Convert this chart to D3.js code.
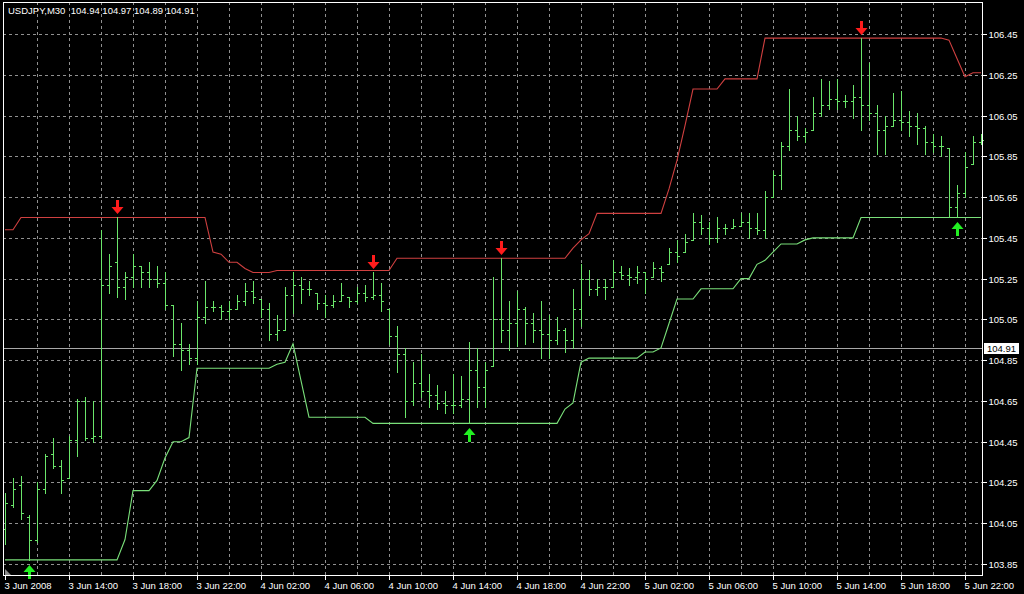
<!DOCTYPE html>
<html><head><meta charset="utf-8">
<script src="https://cdn.jsdelivr.net/npm/d3@7"></script>
<style>html,body{margin:0;padding:0;background:#000;overflow:hidden}svg{display:block}</style>
</head><body><svg id="c" width="1024" height="594"></svg>
<script>
const titleText = "USDJPY,M30  104.94 104.97 104.89 104.91";
const startTime = new Date(2008, 5, 3, 10, 0);
const barMinutes = 30;

const opens = [104.02,104.14,104.24,104.08,103.97,104.22,104.39,104.33,104.27,104.46,
104.65,104.47,104.48,105.22,105.33,105.21,105.26,105.31,105.28,105.25,
105.23,105.12,104.93,104.90,104.86,105.06,105.11,105.11,105.09,105.10,
105.14,105.19,105.15,105.10,104.98,105.00,105.17,105.22,105.20,105.18,
105.13,105.12,105.14,105.16,105.14,105.18,105.16,105.17,105.10,104.97,
104.88,104.65,104.74,104.70,104.68,104.64,104.63,104.63,104.66,104.80,
104.72,104.82,105.05,105.00,105.03,105.10,105.03,105.00,104.98,104.95,
105.00,104.95,105.10,105.25,105.20,105.21,105.21,105.28,105.27,105.26,
105.28,105.26,105.30,105.32,105.38,105.38,105.44,105.53,105.50,105.45,
105.50,105.50,105.51,105.53,105.50,105.49,105.65,105.76,105.90,105.98,
105.95,105.98,106.06,106.10,106.13,106.12,106.12,106.14,106.10,106.06,
105.98,106.00,106.03,106.02,106.00,105.99,105.92,105.90,105.89,105.60,
105.67,105.81,105.92];
const highs = [104.20,104.27,104.28,104.09,104.25,104.39,104.47,104.36,104.48,104.66,
104.67,104.65,105.49,105.37,105.55,105.28,105.37,105.31,105.33,105.31,
105.28,105.12,105.03,104.93,105.14,105.24,105.14,105.12,105.14,105.17,
105.23,105.24,105.15,105.13,105.07,105.21,105.28,105.26,105.24,105.18,
105.17,105.17,105.23,105.16,105.21,105.22,105.28,105.23,105.10,105.02,
104.91,104.84,104.88,104.78,104.73,104.70,104.78,104.77,104.94,104.91,
104.84,105.26,105.35,105.14,105.19,105.11,105.08,105.14,105.07,105.06,
105.01,105.20,105.32,105.29,105.25,105.25,105.34,105.31,105.30,105.31,
105.28,105.33,105.31,105.40,105.44,105.47,105.57,105.56,105.53,105.55,
105.52,105.54,105.57,105.57,105.57,105.68,105.78,105.92,106.18,106.05,
105.99,106.14,106.23,106.22,106.23,106.15,106.20,106.43,106.31,106.10,
106.05,106.16,106.17,106.07,106.06,106.00,105.96,105.95,105.89,105.71,
105.87,105.95,105.96];
const lows = [103.95,104.13,104.07,103.87,103.96,104.20,104.32,104.20,104.27,104.38,
104.46,104.45,104.47,105.18,105.16,105.15,105.21,105.21,105.21,105.21,
105.10,104.87,104.80,104.83,104.83,105.03,105.09,105.05,105.05,105.10,
105.12,105.13,105.06,104.95,104.95,105.00,105.08,105.13,105.17,105.10,
105.06,105.11,105.14,105.11,105.13,105.14,105.15,105.09,104.93,104.79,
104.57,104.63,104.67,104.62,104.61,104.59,104.59,104.62,104.54,104.62,
104.62,104.82,104.94,104.90,104.92,104.93,104.94,104.86,104.86,104.93,
104.89,104.91,105.02,105.17,105.17,105.15,105.21,105.25,105.22,105.23,
105.18,105.26,105.24,105.32,105.33,105.38,105.44,105.47,105.42,105.43,
105.47,105.50,105.51,105.45,105.47,105.45,105.65,105.69,105.88,105.93,
105.92,105.98,106.05,106.08,106.08,106.09,106.04,105.98,106.03,105.86,
105.86,106.00,105.98,105.95,105.91,105.86,105.87,105.85,105.55,105.55,
105.65,105.81,105.91];
const closes = [104.15,104.22,104.10,103.97,104.22,104.38,104.33,104.26,104.46,104.65,
104.47,104.48,105.22,105.31,105.21,105.26,105.31,105.28,105.25,105.23,
105.12,104.93,104.90,104.86,105.06,105.11,105.11,105.09,105.10,105.14,
105.19,105.16,105.10,104.98,105.00,105.17,105.22,105.20,105.20,105.13,
105.12,105.14,105.17,105.14,105.18,105.16,105.17,105.14,104.97,104.88,
104.65,104.74,104.70,104.68,104.64,104.63,104.63,104.66,104.80,104.72,
104.80,105.05,105.00,105.03,105.10,105.03,105.00,104.98,104.95,105.00,
104.95,105.10,105.25,105.20,105.21,105.21,105.28,105.27,105.26,105.28,
105.25,105.30,105.28,105.38,105.36,105.43,105.53,105.50,105.45,105.50,
105.50,105.51,105.53,105.50,105.49,105.65,105.76,105.90,105.98,105.95,
105.97,106.06,106.10,106.13,106.12,106.12,106.14,106.10,106.06,105.98,
106.00,106.03,106.02,106.00,105.99,105.92,105.90,105.90,105.60,105.67,
105.80,105.92,105.93];

const upperChannel = [105.49,105.49,
105.55,105.55,105.55,105.55,105.55,105.55,105.55,105.55,105.55,105.55,105.55,105.55,
105.55,105.55,105.55,105.55,105.55,105.55,105.55,105.55,105.55,105.55,105.55,105.55,
105.38,105.37,105.33,105.33,105.30,105.28,105.28,105.28,
105.29,105.29,105.29,105.29,105.29,105.29,105.29,105.29,105.29,105.29,105.29,105.29,105.29,105.29,105.29,
105.35,105.35,105.35,105.35,105.35,105.35,105.35,105.35,105.35,105.35,105.35,
105.35,105.35,105.35,105.35,105.35,105.35,105.35,105.35,105.35,105.35,105.35,
105.40,105.44,105.47,
105.57,105.57,105.57,105.57,105.57,105.57,105.57,105.57,105.57,
105.69,105.83,106.00,
106.18,106.18,106.18,106.18,
106.23,106.23,106.23,106.23,106.23,
106.43,106.43,106.43,106.43,106.43,106.43,106.43,106.43,106.43,106.43,106.43,106.43,
106.43,106.43,106.43,106.43,106.43,106.43,106.43,106.43,106.43,106.43,106.43,106.42,
106.33,106.24,106.26,106.26];
const lowerChannel = [103.87,103.87,103.87,103.87,103.87,103.87,103.87,103.87,103.87,103.87,
103.87,103.87,103.87,103.87,103.87,
103.97,104.21,104.21,104.21,104.26,104.37,104.45,104.45,104.47,
104.81,104.81,104.81,104.81,104.81,104.81,104.81,104.81,104.81,104.81,
104.83,104.84,104.93,104.75,
104.57,104.57,104.57,104.57,104.57,104.57,104.57,104.57,
104.54,104.54,104.54,104.54,104.54,104.54,104.54,104.54,104.54,104.54,104.54,104.54,
104.54,104.54,104.54,104.54,104.54,104.54,104.54,104.54,104.54,104.54,104.54,104.54,
104.61,104.64,104.84,
104.86,104.86,104.86,104.86,104.86,104.86,104.86,
104.89,104.89,104.91,105.03,
105.15,105.15,105.15,
105.20,105.20,105.20,105.20,105.20,
105.25,105.25,105.32,105.34,105.38,
105.42,105.42,105.42,105.44,
105.45,105.45,105.45,105.45,105.45,105.45,
105.55,105.55,105.55,105.55,105.55,105.55,105.55,105.55,
105.55,105.55,105.55,105.55,105.55,105.55,105.55,105.55];

const sellArrowBars = [14, 46, 62, 107];
const buyArrowBars = [3, 58, 119];
const bidPrice = 104.91;
const yTicks = [103.85,104.05,104.25,104.45,104.65,104.85,105.05,105.25,105.45,105.65,105.85,106.05,106.25,106.45];
const xTickLabels = ["3 Jun 2008","3 Jun 14:00","3 Jun 18:00","3 Jun 22:00","4 Jun 02:00","4 Jun 06:00",
"4 Jun 10:00","4 Jun 14:00","4 Jun 18:00","4 Jun 22:00","5 Jun 02:00","5 Jun 06:00",
"5 Jun 10:00","5 Jun 14:00","5 Jun 18:00","5 Jun 22:00"];

// ---------- layout ----------
const W = 1024, H = 594;
const frame = {left: 3, top: 2, right: 982, bottom: 575};
const FONT = "'Liberation Sans', Arial, sans-serif";
const n = opens.length;
const barTimes = d3.range(n).map(i => d3.timeMinute.offset(startTime, barMinutes * i));

const x = d3.scaleTime().domain([barTimes[0], barTimes[n - 1]]).range([5, 981]);
const y = d3.scaleLinear().domain([103.85, 106.45]).range([564, 34]);
const px = v => Math.round(v) + 0.5;

const svg = d3.select("#c");
svg.append("rect").attr("width", W).attr("height", H).attr("fill", "#000");

const gridColor = "#909090";
const gGrid = svg.append("g").attr("shape-rendering", "crispEdges");
gGrid.selectAll("line.v").data(barTimes.filter((d, i) => i % 4 === 0 && i > 0))
  .join("line").attr("class", "v")
  .attr("x1", d => px(x(d))).attr("x2", d => px(x(d)))
  .attr("y1", frame.top).attr("y2", frame.bottom)
  .attr("stroke", gridColor).attr("stroke-dasharray", "3,3");
gGrid.selectAll("line.h").data(yTicks)
  .join("line").attr("class", "h")
  .attr("x1", frame.left).attr("x2", frame.right)
  .attr("y1", d => px(y(d))).attr("y2", d => px(y(d)))
  .attr("stroke", gridColor).attr("stroke-dasharray", "3,3");

// bid line
svg.append("line").attr("shape-rendering", "crispEdges")
  .attr("x1", frame.left).attr("x2", frame.right)
  .attr("y1", px(y(bidPrice))).attr("y2", px(y(bidPrice)))
  .attr("stroke", "#a8a8a8");

// channel lines
const lineGen = d3.line().x((d, i) => x(barTimes[i])).y(d => y(d));
svg.append("path").datum(upperChannel).attr("d", lineGen)
  .attr("fill", "none").attr("stroke", "#d04040").attr("stroke-width", 1.1);
svg.append("path").datum(lowerChannel).attr("d", lineGen)
  .attr("fill", "none").attr("stroke", "#7ae07a").attr("stroke-width", 1.1);

// OHLC bars
const barColor = "#6ae66a";
const gBars = svg.append("g").attr("shape-rendering", "crispEdges").attr("stroke", barColor);
const idx = d3.range(n);
gBars.selectAll("line.hl").data(idx).join("line").attr("class", "hl")
  .attr("x1", i => px(x(barTimes[i]))).attr("x2", i => px(x(barTimes[i])))
  .attr("y1", i => Math.round(y(highs[i]))).attr("y2", i => Math.round(y(lows[i])) + 1);
gBars.selectAll("line.o").data(idx).join("line").attr("class", "o")
  .attr("x1", i => Math.round(x(barTimes[i])) - 2).attr("x2", i => Math.round(x(barTimes[i])))
  .attr("y1", i => px(y(opens[i]))).attr("y2", i => px(y(opens[i])));
gBars.selectAll("line.c").data(idx).join("line").attr("class", "c")
  .attr("x1", i => Math.round(x(barTimes[i])) + 1).attr("x2", i => Math.round(x(barTimes[i])) + 3)
  .attr("y1", i => px(y(closes[i]))).attr("y2", i => px(y(closes[i])));

// arrows
function downArrow(cx, tip) {
  return `M${cx - 6},${tip - 7} L${cx + 6},${tip - 7} L${cx},${tip} Z M${cx - 1.5},${tip - 14} L${cx + 1.5},${tip - 14} L${cx + 1.5},${tip - 6} L${cx - 1.5},${tip - 6} Z`;
}
function upArrow(cx, tip) {
  return `M${cx - 6},${tip + 7} L${cx + 6},${tip + 7} L${cx},${tip} Z M${cx - 1.5},${tip + 14} L${cx + 1.5},${tip + 14} L${cx + 1.5},${tip + 6} L${cx - 1.5},${tip + 6} Z`;
}
svg.append("g").selectAll("path").data(sellArrowBars).join("path")
  .attr("d", i => downArrow(Math.round(x(barTimes[i])) + 0.5, Math.round(y(highs[i])) - 3))
  .attr("fill", "#ff1c1c");
svg.append("g").selectAll("path").data(buyArrowBars).join("path")
  .attr("d", i => upArrow(Math.round(x(barTimes[i])) + 0.5, Math.round(y(lows[i])) + 5))
  .attr("fill", "#22f022");

// frame
svg.append("rect").attr("shape-rendering", "crispEdges")
  .attr("x", frame.left + 0.5).attr("y", frame.top + 0.5)
  .attr("width", frame.right - frame.left).attr("height", frame.bottom - frame.top)
  .attr("fill", "none").attr("stroke", "#fff");

// small shift marker
svg.append("path").attr("d", `M${frame.left + 2},${frame.bottom} L${frame.left + 2},${frame.bottom - 6} L${frame.left + 8},${frame.bottom} Z`)
  .attr("fill", "#8c8c8c");

// axes
const yAxis = d3.axisRight(y).tickValues(yTicks).tickSize(4).tickPadding(2).tickFormat(d3.format(".2f"));
const gy = svg.append("g").attr("transform", `translate(${frame.right + 0.5},0)`).call(yAxis);
gy.select(".domain").remove();
gy.selectAll("line").attr("stroke", "#fff").attr("shape-rendering", "crispEdges");
gy.selectAll(".tick").attr("transform", d => `translate(0,${px(y(d))})`);
gy.selectAll("text").attr("fill", "#fff").style("font-family", FONT).style("font-size", "9.5px");

const xTickTimes = barTimes.filter((d, i) => i % 8 === 0);
const xAxis = d3.axisBottom(x).tickValues(xTickTimes).tickSize(4).tickPadding(3)
  .tickFormat((d, i) => xTickLabels[i]);
const gx = svg.append("g").attr("transform", `translate(0,${frame.bottom + 0.5})`).call(xAxis);
gx.select(".domain").remove();
gx.selectAll(".tick").attr("transform", d => `translate(${px(x(d))},0)`);
gx.selectAll("line").attr("stroke", "#fff").attr("shape-rendering", "crispEdges");
gx.selectAll("text").attr("fill", "#fff").attr("text-anchor", "start").attr("x", -1)
  .style("font-family", FONT).style("font-size", "9.5px");

// bid label
const by = Math.round(y(bidPrice));
svg.append("rect").attr("x", 984).attr("y", by - 5).attr("width", 35).attr("height", 11).attr("fill", "#fff");
svg.append("text").attr("x", 987).attr("y", by + 4).text(d3.format(".2f")(bidPrice))
  .attr("fill", "#000").style("font-family", FONT).style("font-size", "9.5px");

// title
svg.append("text").attr("x", 8).attr("y", 14).text(titleText).attr("xml:space", "preserve")
  .style("white-space", "pre").attr("fill", "#fff").style("font-family", FONT).style("font-size", "9.5px");
</script></body></html>
